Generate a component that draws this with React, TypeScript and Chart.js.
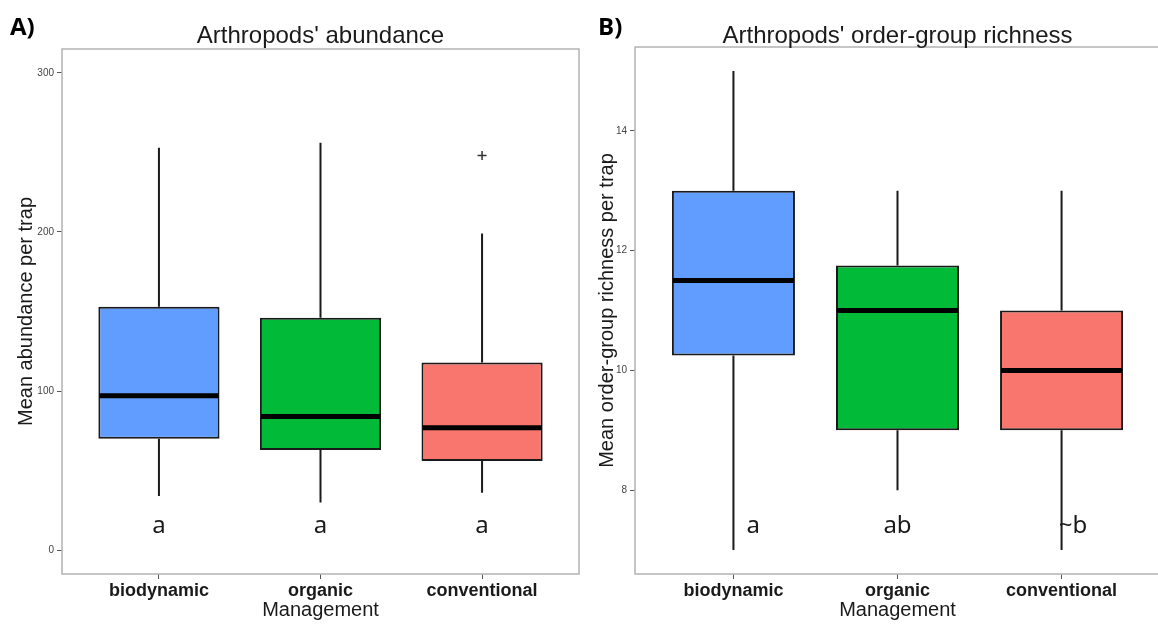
import { useEffect, useRef } from 'react';
import { Chart, registerables } from 'chart.js';

Chart.register(...registerables);

// Management groups shown on both panels
const categories = ['biodynamic', 'organic', 'conventional'];
const boxColors = ['#619CFF', '#00BA38', '#F8766D'];

// Panel A: arthropod abundance per trap (five-number summaries)
const abundanceMin = [34, 30, 36];
const abundanceQ1 = [70, 63, 56];
const abundanceMedian = [97, 84, 77];
const abundanceQ3 = [153, 146, 118];
const abundanceMax = [253, 256, 199];
const abundanceOutlierGroup = [3];
const abundanceOutlierValue = [248];
const abundanceTicks = [0, 100, 200, 300];
const abundanceLetters = ['a', 'a', 'a'];
const abundanceLetterX = [1, 2, 3];
const abundanceLetterY = [15, 15, 15];

// Panel B: arthropod order-group richness per trap
const richnessMin = [7, 8, 7];
const richnessQ1 = [10.25, 9, 9];
const richnessMedian = [11.5, 11, 10];
const richnessQ3 = [13, 11.75, 11];
const richnessMax = [15, 13, 13];
const richnessOutlierGroup: number[] = [];
const richnessOutlierValue: number[] = [];
const richnessTicks = [8, 10, 12, 14];
const richnessLetters = ['a', 'ab', '~b'];
const richnessLetterX = [1.12, 2, 3.07];
const richnessLetterY = [7.4, 7.4, 7.4];

const SANS = "'Liberation Sans', Arial, Helvetica, sans-serif";
const LETTER_FONT = "'Noto Sans', 'Open Sans', sans-serif";

type PanelSpec = {
  tag: string;
  tagX: number;
  title: string;
  yTitle: string;
  yMin: number;
  yMax: number;
  yTicks: number[];
  lo: number[];
  q1: number[];
  med: number[];
  q3: number[];
  hi: number[];
  outGroup: number[];
  outValue: number[];
  letters: string[];
  letterX: number[];
  letterY: number[];
  axisWidth: number;
  yTitlePad: number;
  padding: { top: number; right: number; bottom: number; left: number };
};

const panelA: PanelSpec = {
  tag: 'A)',
  tagX: 10,
  title: "Arthropods' abundance",
  yTitle: 'Mean abundance per trap',
  yMin: -15,
  yMax: 315,
  yTicks: abundanceTicks,
  lo: abundanceMin,
  q1: abundanceQ1,
  med: abundanceMedian,
  q3: abundanceQ3,
  hi: abundanceMax,
  outGroup: abundanceOutlierGroup,
  outValue: abundanceOutlierValue,
  letters: abundanceLetters,
  letterX: abundanceLetterX,
  letterY: abundanceLetterY,
  axisWidth: 62,
  yTitlePad: 14,
  padding: { top: 49, right: 1, bottom: 0, left: 0 },
};

const panelB: PanelSpec = {
  tag: 'B)',
  tagX: 18,
  title: "Arthropods' order-group richness",
  yTitle: 'Mean order-group richness per trap',
  yMin: 6.6,
  yMax: 15.4,
  yTicks: richnessTicks,
  lo: richnessMin,
  q1: richnessQ1,
  med: richnessMedian,
  q3: richnessQ3,
  hi: richnessMax,
  outGroup: richnessOutlierGroup,
  outValue: richnessOutlierValue,
  letters: richnessLetters,
  letterX: richnessLetterX,
  letterY: richnessLetterY,
  axisWidth: 55,
  yTitlePad: 15,
  padding: { top: 47, right: 20, bottom: 0, left: 0 },
};

// Whiskers, medians, panel frame and annotations for one boxplot panel
function boxplotPlugin(p: PanelSpec) {
  return {
    id: 'boxplotExtras',
    beforeDatasetsDraw(chart: any) {
      const { ctx } = chart;
      const xs = chart.scales.x;
      const ys = chart.scales.y;
      ctx.save();
      ctx.strokeStyle = '#1a1a1a';
      ctx.lineWidth = 2;
      p.med.forEach((_, i) => {
        const px = xs.getPixelForValue(i + 1);
        ctx.beginPath();
        ctx.moveTo(px, ys.getPixelForValue(p.hi[i]));
        ctx.lineTo(px, ys.getPixelForValue(p.q3[i]));
        ctx.moveTo(px, ys.getPixelForValue(p.q1[i]));
        ctx.lineTo(px, ys.getPixelForValue(p.lo[i]));
        ctx.stroke();
      });
      ctx.restore();
    },
    afterDatasetsDraw(chart: any) {
      const { ctx } = chart;
      const ys = chart.scales.y;
      const bars = chart.getDatasetMeta(0).data;
      ctx.save();
      ctx.strokeStyle = '#000';
      ctx.lineWidth = 5;
      p.med.forEach((m, i) => {
        const bar = bars[i];
        const py = ys.getPixelForValue(m);
        ctx.beginPath();
        ctx.moveTo(bar.x - bar.width / 2 + 1, py);
        ctx.lineTo(bar.x + bar.width / 2 - 1, py);
        ctx.stroke();
      });
      ctx.restore();
    },
    afterDraw(chart: any) {
      const { ctx, chartArea } = chart;
      const xs = chart.scales.x;
      const ys = chart.scales.y;
      ctx.save();
      // panel frame
      ctx.strokeStyle = '#b3b3b3';
      ctx.lineWidth = 1.5;
      ctx.strokeRect(
        chartArea.left,
        chartArea.top,
        chartArea.right - chartArea.left,
        chartArea.bottom - chartArea.top
      );
      // significance letters
      ctx.fillStyle = '#1a1a1a';
      ctx.font = `24px ${LETTER_FONT}`;
      ctx.textAlign = 'center';
      ctx.textBaseline = 'middle';
      p.letters.forEach((t, i) => {
        ctx.fillText(t, xs.getPixelForValue(p.letterX[i]), ys.getPixelForValue(p.letterY[i]));
      });
      // panel title
      ctx.textBaseline = 'alphabetic';
      ctx.font = `24px ${SANS}`;
      ctx.fillText(p.title, (chartArea.left + chartArea.right) / 2, 43);
      // panel tag
      ctx.textAlign = 'left';
      ctx.fillStyle = '#000';
      ctx.font = `bold 24px 'Open Sans', ${SANS}`;
      ctx.fillText(p.tag, p.tagX, 35);
      ctx.restore();
    },
  };
}

function makeChart(canvas: HTMLCanvasElement, p: PanelSpec) {
  const boxes = categories.map((_, i) => ({ x: i + 1, y: [p.q1[i], p.q3[i]] }));
  const outliers = p.outGroup.map((g, i) => ({ x: g, y: p.outValue[i] }));
  return new Chart(canvas, {
    type: 'bar',
    data: {
      datasets: [
        {
          type: 'bar',
          data: boxes as any,
          backgroundColor: boxColors,
          borderColor: '#1a1a1a',
          borderWidth: 2,
          borderSkipped: false,
          barPercentage: 0.75,
          categoryPercentage: 1,
        },
        {
          type: 'scatter',
          data: outliers,
          pointStyle: 'cross',
          pointRadius: 4.5,
          borderColor: '#333',
          borderWidth: 1.5,
          backgroundColor: '#333',
        } as any,
      ],
    },
    options: {
      responsive: false,
      animation: false,
      events: [],
      layout: { padding: p.padding, autoPadding: false },
      plugins: {
        legend: { display: false },
        tooltip: { enabled: false },
        title: { display: false },
      },
      scales: {
        x: {
          type: 'linear',
          min: 0.4,
          max: 3.6,
          offset: false,
          afterBuildTicks: (scale: any) => {
            scale.ticks = categories.map((_, i) => ({ value: i + 1 }));
          },
          afterFit: (scale: any) => {
            scale.height = 50;
            scale.paddingLeft = 0;
            scale.paddingRight = 0;
          },
          grid: {
            offset: false,
            drawOnChartArea: false,
            drawTicks: true,
            tickLength: 5,
            color: '#555',
          },
          border: { display: false },
          ticks: {
            autoSkip: false,
            maxRotation: 0,
            padding: 1,
            color: '#1a1a1a',
            font: { family: SANS, size: 18, weight: 'bold' },
            callback: (v: any) => categories[Math.round(Number(v)) - 1] ?? '',
          },
          title: {
            display: true,
            text: 'Management',
            color: '#1a1a1a',
            font: { family: SANS, size: 20 },
            padding: { top: 0, bottom: 2 },
          },
        },
        y: {
          type: 'linear',
          min: p.yMin,
          max: p.yMax,
          afterBuildTicks: (scale: any) => {
            scale.ticks = p.yTicks.map((v) => ({ value: v }));
          },
          afterFit: (scale: any) => {
            scale.width = p.axisWidth;
            scale.paddingTop = 0;
            scale.paddingBottom = 0;
          },
          grid: { drawOnChartArea: false, drawTicks: true, tickLength: 5, color: '#555' },
          border: { display: false },
          ticks: {
            padding: 3,
            color: '#444',
            font: { family: SANS, size: 10 },
          },
          title: {
            display: true,
            text: p.yTitle,
            color: '#1a1a1a',
            font: { family: SANS, size: 20 },
            padding: { top: p.yTitlePad, bottom: 0 },
          },
        },
      },
    } as any,
    plugins: [boxplotPlugin(p)],
  });
}

export default function App() {
  const refA = useRef<HTMLCanvasElement>(null);
  const refB = useRef<HTMLCanvasElement>(null);

  useEffect(() => {
    const a = makeChart(refA.current!, panelA);
    const b = makeChart(refB.current!, panelB);
    return () => {
      a.destroy();
      b.destroy();
    };
  }, []);

  return (
    <div
      style={{
        position: 'fixed',
        left: 0,
        top: 0,
        width: 1158,
        height: 624,
        overflow: 'hidden',
        background: '#fff',
      }}
    >
      <canvas ref={refA} width={580} height={624} style={{ position: 'absolute', left: 0, top: 0 }} />
      <canvas ref={refB} width={600} height={624} style={{ position: 'absolute', left: 580, top: 0 }} />
    </div>
  );
}
